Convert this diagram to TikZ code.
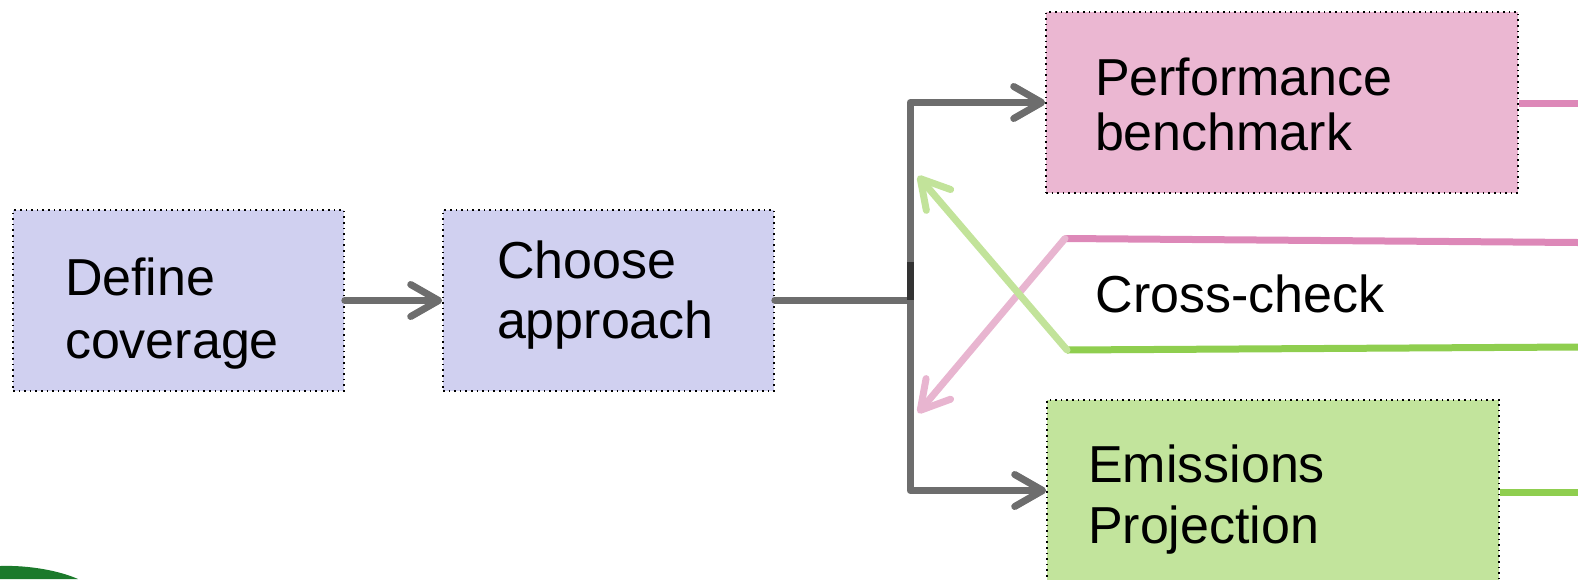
\documentclass[tikz,border=0pt]{standalone}
\usepackage{fontspec}
\setmainfont{Liberation Sans}
\usetikzlibrary{arrows.meta}

\definecolor{lavfill}{HTML}{D0D0F0}
\definecolor{pinkfill}{HTML}{EBB7D2}
\definecolor{greenfill}{HTML}{C2E49C}
\definecolor{pinkline}{HTML}{DD88B8}
\definecolor{greenline}{HTML}{8FCE4F}
\definecolor{pinkarrow}{HTML}{E8B5D0}
\definecolor{greenarrow}{HTML}{C2E39A}
\definecolor{flowgray}{HTML}{6D6D6D}
\definecolor{darkgreen}{HTML}{1B7A2B}

\tikzset{
  stage/.style={draw=black, dotted, line width=0.8pt, inner sep=0pt, align=left},
  flow/.style={line width=3.5pt, draw=flowgray, line cap=round, line join=round},
  head/.style={-{Straight Barb[round, length=14pt, width=16pt]}},
  tie/.style={line width=3.5pt}
}

\begin{document}
\begin{tikzpicture}[x=0.5pt, y=-0.5pt]
    \clip (0,0) rectangle (1578,579);
    \useasboundingbox (0,0) rectangle (1578,579);

    % corner shape
    \fill[darkgreen] (0,566) .. controls (30,565) and (60,571) .. (78,579) -- (0,579) -- cycle;

    % stages
    \node[stage, fill=lavfill, font=\fontsize{26}{31.5}\selectfont, text width=113.5pt, minimum width=165.5pt,
      text height=42.5pt, text depth=48pt] (define) at (178.5,300.5) {Define\\coverage};
    \node[stage, fill=lavfill, font=\fontsize{26}{30}\selectfont, text width=111.5pt, minimum width=165.5pt,
      text height=34pt, text depth=56.5pt] (choose) at (608.5,300.5) {Choose\\approach};
    \node[stage, fill=pinkfill, font=\fontsize{26}{27.5}\selectfont, text width=187pt, minimum width=236pt,
      text height=41.5pt, text depth=49pt] (perf) at (1282,102.5) {Performance\\benchmark};
    \node[stage, fill=greenfill, font=\fontsize{26}{30.5}\selectfont, text width=185pt, minimum width=226pt,
      text height=41pt, text depth=49.5pt] (emis) at (1273,490.5) {Emissions\\Projection};
    \node[font=\fontsize{26}{30}\selectfont] (cross) at (1240,294) {Cross-check};

    % split points
    \coordinate (split) at (910,300);
    \coordinate (crossP) at (1065,238.5);
    \coordinate (crossG) at (1067,350);
    \coordinate (endP) at (1578,242.5);
    \coordinate (endG) at (1578,347);
    \coordinate (tipP) at (918,413);
    \coordinate (tipG) at (918,176);
    \coordinate (outP) at (1578,103);
    \coordinate (outG) at (1578,492);
    \coordinate (mark) at (910,262);

    % main flow
    \draw[flow, head] (define) -- (choose.west |- define);
    \draw[flow] (choose.east |- split) -- (split);
    \draw[flow, head] (split) |- (perf.west);
    \draw[flow, head] (split) |- (emis.west);
    \draw[line width=3.5pt, draw=black!80] (mark) -- (split);

    % cross-check
    \draw[tie, draw=pinkline] (crossP) -- (endP);
    \draw[tie, draw=greenline] (crossG) -- (endG);
    \draw[tie, draw=pinkarrow, line cap=round, head] (crossP) -- (tipP);
    \draw[tie, draw=greenarrow, line cap=round, head] (crossG) -- (tipG);

    % outputs
    \draw[tie, draw=pinkline] (perf.east |- outP) -- (outP);
    \draw[tie, draw=greenline] (emis.east |- outG) -- (outG);
\end{tikzpicture}
\end{document}
